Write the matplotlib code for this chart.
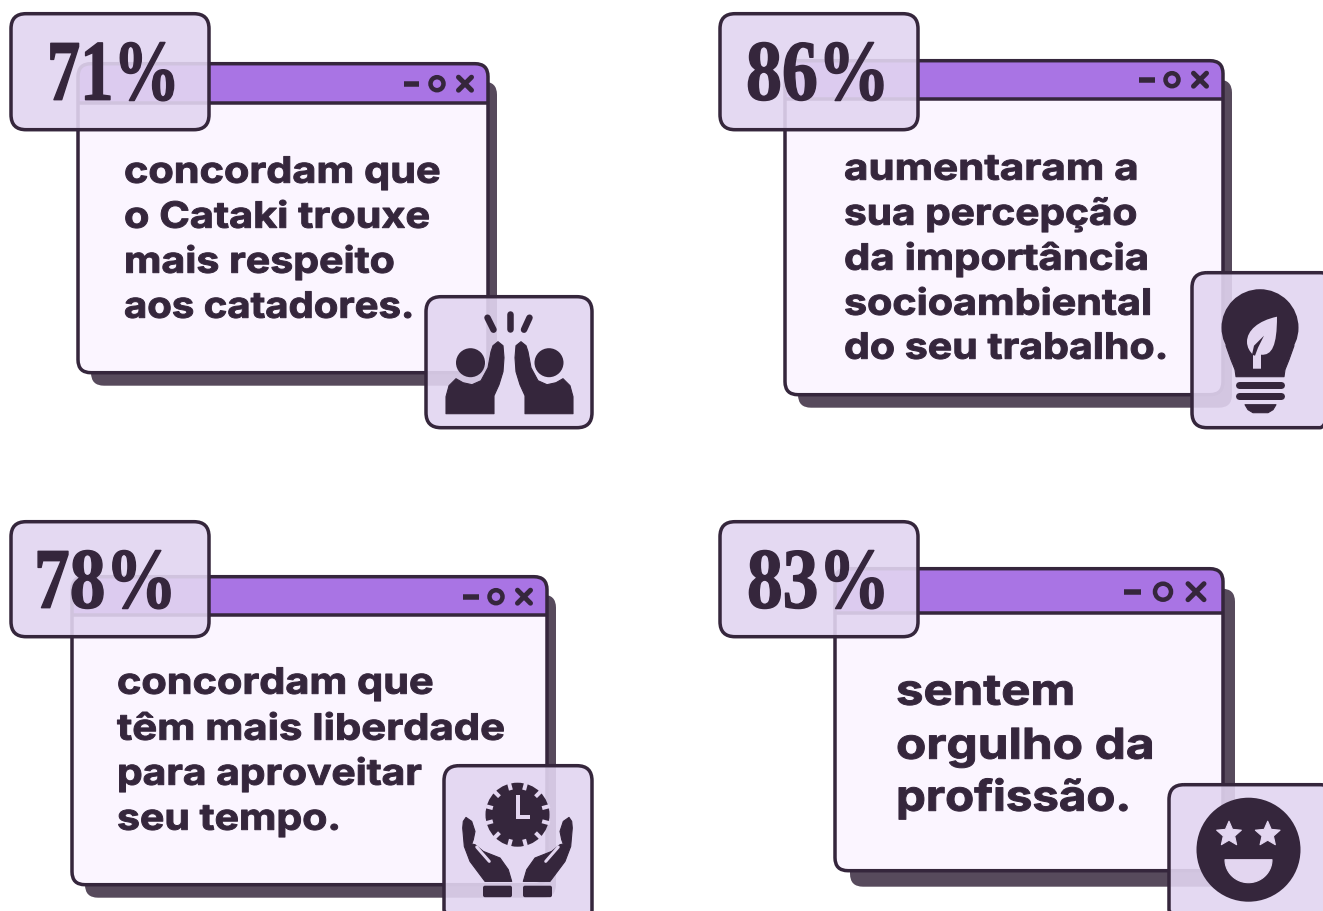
import numpy as np
import matplotlib
matplotlib.use("Agg")
import matplotlib.pyplot as plt
from matplotlib.patches import FancyBboxPatch, Rectangle, Circle, PathPatch, Polygon, Ellipse
from matplotlib.path import Path
from matplotlib.patheffects import AbstractPathEffect
from matplotlib.transforms import Affine2D

# ---- content ----
percents = ["71%", "86%", "78%", "83%"]
captions = [
    ["concordam que", "o Cataki trouxe", "mais respeito", "aos catadores."],
    ["aumentaram a", "sua percepção", "da importância", "socioambiental", "do seu trabalho."],
    ["concordam que", "têm mais liberdade", "para aproveitar", "seu tempo."],
    ["sentem", "orgulho da", "profissão."],
]

# ---- style ----
DARK = "#35263C"
SHADOW = "#574A5C"
PURPLE = "#A974E4"
BODY = "#FBF5FF"
TINT = "#E2D5F1"
LIGHT = "#E3D6F0"
SANS = "Inter"
SERIF = "Liberation Serif"

# ---- layout (pixels) ----
win_boxes = [(78, 64, 488, 373), (785, 61, 1223, 395), (72, 577, 547, 885), (835, 569, 1223, 871)]
title_bottom = [103, 99, 615, 613]
shadow_boxes = [(91, 82, 497, 386), (798, 80, 1232, 408), (85, 595, 556, 898), (850, 589, 1235, 887)]
badge_boxes = [(11, 14, 209, 130), (720, 14, 918, 130), (11, 522, 209, 637), (720, 522, 918, 637)]
icon_boxes = [(426, 297, 592, 428), (1192, 273, 1335, 428), (444, 766, 592, 925), (1169, 785, 1335, 925)]
ctrl_pos = [(404, 419, 437, 465, 84, 6.5), (1139, 1155, 1172, 1200, 80, 6.5),
            (463, 479, 496, 524, 597, 6.5), (1124, 1141, 1163, 1196, 592, 8)]
pct_x = [(47, 180, 100), (746, 890, 100), (34, 177, 608), (747, 890, 608)]
cap_x = [124, 844, 117, 896]
cap_base = [[183, 228, 273, 318], [180, 225, 270, 315, 359], [694, 740, 785, 830], [705, 759, 811]]
cap_right = [[440, 430, 395, 414], [1139, 1137, 1149, 1152, 1168], [433, 505, 422, 341], [1075, 1154, 1131]]
cap_size = [26, 26, 26, 30.5]

fig = plt.figure(figsize=(13.23, 9.12), dpi=100)
ax = fig.add_axes([0, 0, 1, 1])
ax.set_xlim(0, 1323)
ax.set_ylim(911.3, -0.7)
ax.axis("off")
LW = 3.5 * 72 / 100


class HScale(AbstractPathEffect):
    """Squeeze or widen a text line about its left anchor and thicken its strokes."""
    def __init__(self, sx, x0, bold):
        super().__init__()
        self.sx, self.x0, self.bold = sx, x0, bold

    def draw_path(self, renderer, gc, tpath, affine, rgbFace=None):
        t = affine + Affine2D().translate(-self.x0, 0).scale(self.sx, 1).translate(self.x0, 0)
        g = renderer.new_gc()
        g.copy_properties(gc)
        g.set_linewidth(self.bold * 0.72)
        g.set_foreground(rgbFace)
        g.set_joinstyle("round")
        renderer.draw_path(g, tpath, t, rgbFace)
        g.restore()


def rrect(box, r, **kw):
    x0, y0, x1, y1 = box
    p = FancyBboxPatch((x0, y0), x1 - x0, y1 - y0, boxstyle=f"round,pad=0,rounding_size={r}",
                       mutation_aspect=1, **kw)
    ax.add_patch(p)
    return p


def fitted(x, y, s, size, family, target, bold):
    t = ax.text(x, y, s, fontsize=size, family=family, weight="bold", color=DARK,
                ha="left", va="baseline", zorder=20)
    w = t.get_window_extent(fig.canvas.get_renderer()).width
    t.set_path_effects([HScale((target - x) / w, x, bold)])


def poly(points, color=DARK, z=15, mirror=None):
    pts = np.array(points, float)
    if mirror is not None:
        pts[:, 0] = 2 * mirror - pts[:, 0]
    ax.add_patch(Polygon(pts, closed=True, fc=color, ec=color, lw=0.8, joinstyle="round", zorder=z))


def seg(x0, y0, x1, y1, w, color=DARK, z=15, cap="round"):
    ax.plot([x0, x1], [y0, y1], color=color, lw=w * 0.72, solid_capstyle=cap, zorder=z)


# ---- windows ----
for i in range(4):
    rrect(shadow_boxes[i], 13, fc=SHADOW, ec="none", zorder=1)
    base = rrect(win_boxes[i], 13, fc=PURPLE, ec="none", zorder=2)
    x0, y0, x1, y1 = win_boxes[i]
    body = Rectangle((x0, title_bottom[i]), x1 - x0, y1 - title_bottom[i], fc=BODY, ec="none", zorder=3)
    ax.add_patch(body)
    body.set_clip_path(base)
    seg(x0, title_bottom[i], x1, title_bottom[i], 3.5, z=4, cap="butt")
    rrect(win_boxes[i], 13, fc="none", ec=DARK, lw=LW, zorder=5)
    # window controls
    a, b, c, d, y, s = ctrl_pos[i]
    seg(a, y, b, y, 5.5, z=6, cap="butt")
    ax.add_patch(Ellipse((c, y), 2 * s, 2 * s, fc="none", ec=DARK, lw=4.5 * 0.72, zorder=6))
    seg(d - s, y - s, d + s, y + s, 5, z=6)
    seg(d - s, y + s, d + s, y - s, 5, z=6)

# ---- translucent tiles ----
for box in badge_boxes + icon_boxes:
    rrect(box, 15, fc=TINT, ec="none", alpha=0.9, zorder=10)
    rrect(box, 15, fc="none", ec=DARK, lw=LW, zorder=11)

# ---- percentages and captions ----
for s, (x0, x1, y) in zip(percents, pct_x):
    fitted(x0, y, s, 62, SERIF, x1, 1.4)
for i, lines in enumerate(captions):
    for j, line in enumerate(lines):
        fitted(cap_x[i], cap_base[i][j], line, cap_size[i], SANS, cap_right[i][j], 1.0)

# ---- icon 1: high five ----
seg(487.5, 318, 493.5, 330, 6.5)
seg(509.5, 314, 509.5, 329, 6.5)
seg(529.5, 318, 524, 330, 6.5)
for cx in (470.5, 549):
    ax.add_patch(Circle((cx, 363), 14.5, fc=DARK, ec="none", zorder=15))
arm = [(446, 414), (446, 397), (449, 386), (456, 379), (463, 383), (472, 385), (481, 381), (488, 368),
       (491, 352), (493, 346), (498, 342), (503, 346), (504, 358), (503, 372), (499, 385), (494, 396), (494, 414)]
poly(arm)
poly(arm, mirror=509.5)

# ---- icon 2: bulb with leaf ----
ax.add_patch(Circle((1260, 328), 38.5, fc=DARK, ec="none", zorder=15))
poly([(1226, 346), (1231, 360), (1235, 370), (1236, 377), (1284, 377), (1285, 370), (1289, 360), (1294, 346)])
for yy, a, b in ((385, 1239, 1281), (396.5, 1239, 1281)):
    seg(a, yy, b, yy, 7)
poly([(1245, 405), (1276, 405), (1273, 410), (1268, 413), (1253, 413), (1248, 410)])
leaf = Path([(1277, 317), (1258, 321), (1247, 331), (1247, 342), (1247, 348), (1250, 352), (1253, 355),
             (1253, 369), (1261, 369), (1261, 355), (1272, 356), (1277, 346), (1277, 317)],
            [Path.MOVETO, Path.CURVE4, Path.CURVE4, Path.CURVE4, Path.CURVE4, Path.CURVE4, Path.CURVE4,
             Path.LINETO, Path.LINETO, Path.LINETO, Path.CURVE4, Path.CURVE4, Path.CURVE4])
ax.add_patch(PathPatch(leaf, fc=LIGHT, ec="none", zorder=16))
ax.add_patch(Polygon([(1252, 355), (1254, 346), (1264, 336), (1258, 348), (1255, 356)], closed=True,
                     fc=DARK, ec="none", zorder=17))

# ---- icon 3: clock in hands ----
ax.add_patch(Circle((517.5, 815), 32, fc=DARK, ec="none", zorder=15))
for ang in np.arange(0, 360, 30) + 15:
    ca, sa = np.cos(np.radians(ang)), np.sin(np.radians(ang))
    seg(517.5 + 25.5 * ca, 815 + 25.5 * sa, 517.5 + 33.5 * ca, 815 + 33.5 * sa, 4, color=LIGHT, z=16, cap="butt")
ax.add_patch(PathPatch(Path([(517.5, 795), (517.5, 817), (530, 817)]), fc="none", ec=LIGHT,
                       lw=4 * 0.72, zorder=16, joinstyle="miter", capstyle="butt"))
hand = [(466, 817.7), (471.7, 821.7), (475, 831.7), (473.3, 840), (471.7, 844.3), (475, 845), (483.3, 851.7),
        (500, 858.3), (508.3, 870), (511.7, 881.7), (485, 881.7), (470, 861.7), (464.3, 846.7), (462.7, 828.3),
        (463.3, 821.7)]
for m in (None, 517.5):
    poly(hand, mirror=m)
    xs = (476.7, 489.3) if m is None else (2 * m - 476.7, 2 * m - 489.3)
    seg(xs[0], 847.3, xs[1], 861.7, 3, color=LIGHT, z=16)
    a = 483 if m is None else 2 * m - 512
    ax.add_patch(FancyBboxPatch((a, 886), 29, 11.5, boxstyle="round,pad=0,rounding_size=2",
                                fc=DARK, ec="none", zorder=15))

# ---- icon 4: star-struck face ----
ax.add_patch(Circle((1248.5, 850), 52, fc=DARK, ec="none", zorder=15))
for cx in (1229, 1267.7):
    ang = np.radians(-90 + 36 * np.arange(10))
    rad = np.where(np.arange(10) % 2 == 0, 13, 6)
    poly(np.c_[cx + rad * np.cos(ang), 834.5 + rad * np.sin(ang)], color=LIGHT, z=16)
theta = np.radians(np.linspace(0, 180, 40))
mouth = np.c_[1248.5 + 23.5 * np.cos(theta), 860 + 23 * np.sin(theta)]
poly(mouth, color=LIGHT, z=16)

fig.savefig("out.png", dpi=100)
